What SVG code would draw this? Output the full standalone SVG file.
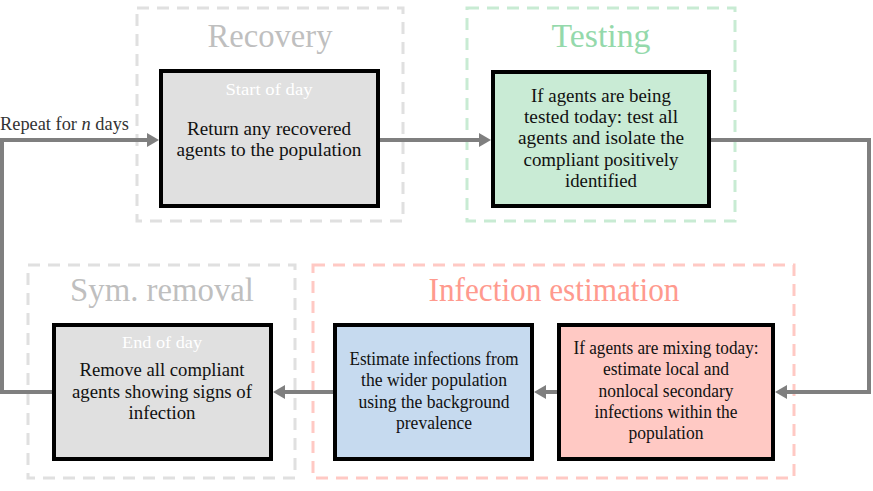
<svg xmlns="http://www.w3.org/2000/svg" width="873" height="491" viewBox="0 0 873 491">
<defs>
<style>
text{font-family:"Liberation Serif","Times New Roman",serif;text-anchor:middle}
.grp{fill:none;stroke-width:3;stroke-dasharray:12,8}
.title{font-size:33px}
.box{stroke:#000;stroke-width:4}
.body{font-size:18.5px;fill:#111}
.sub{font-size:17px;fill:#fff}
.conn{fill:none;stroke:#7f7f7f;stroke-width:4}
.head{fill:#7f7f7f}
</style>
</defs>
<rect width="873" height="491" fill="#fff"/>

<g id="recovery">
<rect class="grp" x="137" y="8" width="266" height="213" stroke="#e0e0e0"/>
<text class="title" x="270" y="47" fill="#bfbfbf" textLength="125" lengthAdjust="spacingAndGlyphs">Recovery</text>
<rect class="box" x="161" y="71" width="217" height="135" fill="#e0e0e0"/>
<text class="sub" x="269" y="95" textLength="87" lengthAdjust="spacingAndGlyphs">Start of day</text>
<text class="body" x="269" y="135" textLength="164" lengthAdjust="spacingAndGlyphs">Return any recovered</text>
<text class="body" x="269" y="156" textLength="185" lengthAdjust="spacingAndGlyphs">agents to the population</text>
</g>

<g id="testing">
<rect class="grp" x="467" y="8" width="268" height="213" stroke="#c8ebd3"/>
<text class="title" x="601" y="47" fill="#94d9ab" textLength="99" lengthAdjust="spacingAndGlyphs">Testing</text>
<rect class="box" x="493" y="72" width="216" height="134" fill="#c9ebd5"/>
<text class="body" x="601" y="102" textLength="140" lengthAdjust="spacingAndGlyphs">If agents are being</text>
<text class="body" x="601" y="123" textLength="154" lengthAdjust="spacingAndGlyphs">tested today: test all</text>
<text class="body" x="601" y="144" textLength="166" lengthAdjust="spacingAndGlyphs">agents and isolate the</text>
<text class="body" x="601" y="166" textLength="155" lengthAdjust="spacingAndGlyphs">compliant positively</text>
<text class="body" x="601" y="187" textLength="72" lengthAdjust="spacingAndGlyphs">identified</text>
</g>

<g id="symremoval">
<rect class="grp" x="28" y="265" width="267" height="213" stroke="#e0e0e0"/>
<text class="title" x="162" y="301" fill="#bfbfbf" textLength="184" lengthAdjust="spacingAndGlyphs">Sym. removal</text>
<rect class="box" x="54" y="325" width="217" height="134" fill="#e0e0e0"/>
<text class="sub" x="162" y="348" textLength="80" lengthAdjust="spacingAndGlyphs">End of day</text>
<text class="body" x="162" y="376" textLength="165" lengthAdjust="spacingAndGlyphs">Remove all compliant</text>
<text class="body" x="162" y="398" textLength="180" lengthAdjust="spacingAndGlyphs">agents showing signs of</text>
<text class="body" x="162" y="419" textLength="67" lengthAdjust="spacingAndGlyphs">infection</text>
</g>

<g id="infection">
<rect class="grp" x="313" y="265" width="481" height="213" stroke="#ffc9c4"/>
<text class="title" x="554" y="301" fill="#ff9a8e" textLength="251" lengthAdjust="spacingAndGlyphs">Infection estimation</text>
<rect class="box" x="335" y="325" width="197" height="134" fill="#c6daef"/>
<text class="body" x="434" y="365" textLength="169" lengthAdjust="spacingAndGlyphs">Estimate infections from</text>
<text class="body" x="434" y="386" textLength="146" lengthAdjust="spacingAndGlyphs">the wider population</text>
<text class="body" x="434" y="408" textLength="151" lengthAdjust="spacingAndGlyphs">using the background</text>
<text class="body" x="434" y="429" textLength="76" lengthAdjust="spacingAndGlyphs">prevalence</text>
<rect class="box" x="559" y="325" width="214" height="134" fill="#ffc9c4"/>
<text class="body" x="666" y="354" textLength="185" lengthAdjust="spacingAndGlyphs">If agents are mixing today:</text>
<text class="body" x="666" y="375" textLength="126" lengthAdjust="spacingAndGlyphs">estimate local and</text>
<text class="body" x="666" y="397" textLength="135" lengthAdjust="spacingAndGlyphs">nonlocal secondary</text>
<text class="body" x="666" y="418" textLength="143" lengthAdjust="spacingAndGlyphs">infections within the</text>
<text class="body" x="666" y="439" textLength="75" lengthAdjust="spacingAndGlyphs">population</text>
</g>

<g id="connectors">
<path class="conn" d="M52,392 H2 V140 H148" />
<polygon class="head" points="147,133 159,140 147,147"/>
<path class="conn" d="M380,140 H480"/>
<polygon class="head" points="479,133 491,140 479,147"/>
<path class="conn" d="M711,140 H869 V392 H786"/>
<polygon class="head" points="787,385 775,392 787,399"/>
<path class="conn" d="M557,392 H545"/>
<polygon class="head" points="546,385 534,392 546,399"/>
<path class="conn" d="M333,392 H284"/>
<polygon class="head" points="285,385 273,392 285,399"/>
<text x="0" y="130" style="font-size:18.5px;fill:#333;text-anchor:start" textLength="129" lengthAdjust="spacingAndGlyphs">Repeat for <tspan font-style="italic">n</tspan> days</text>
</g>
</svg>
